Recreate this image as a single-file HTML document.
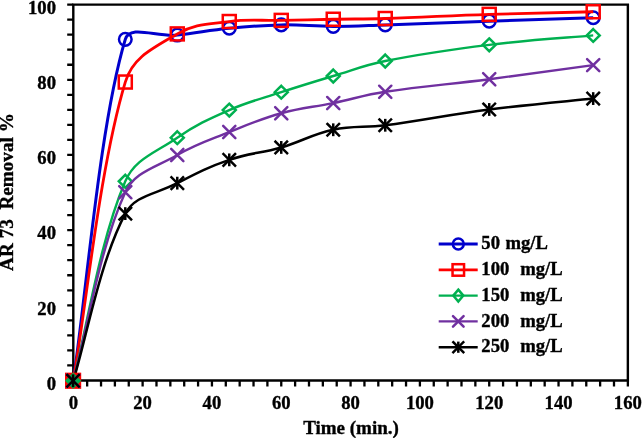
<!DOCTYPE html>
<html><head><meta charset="utf-8"><style>
html,body{margin:0;padding:0;background:#fff;}
svg{display:block;will-change:transform;}
text{font-family:"Liberation Serif",serif;font-weight:bold;fill:#000;stroke:#000;stroke-width:0.35px;}
.tl{font-size:18.67px;}
.at{font-size:19px;}
.yt{font-size:19.2px;}
.lg{font-size:18.67px;word-spacing:0.8px;}
</style></head><body>
<svg width="642" height="438" viewBox="0 0 642 438">
<rect width="642" height="438" fill="#fff"/>
<path d="M67.2,380.50 H73.30 M67.2,365.46 H73.30 M67.2,350.43 H73.30 M67.2,335.39 H73.30 M67.2,320.36 H73.30 M67.2,305.32 H73.30 M67.2,290.28 H73.30 M67.2,275.25 H73.30 M67.2,260.21 H73.30 M67.2,245.18 H73.30 M67.2,230.14 H73.30 M67.2,215.10 H73.30 M67.2,200.07 H73.30 M67.2,185.03 H73.30 M67.2,170.00 H73.30 M67.2,154.96 H73.30 M67.2,139.92 H73.30 M67.2,124.89 H73.30 M67.2,109.85 H73.30 M67.2,94.82 H73.30 M67.2,79.78 H73.30 M67.2,64.74 H73.30 M67.2,49.71 H73.30 M67.2,34.67 H73.30 M67.2,19.64 H73.30 M67.2,4.60 H73.30 M73.30,380.50 V386.6 M87.16,380.50 V386.6 M101.03,380.50 V386.6 M114.89,380.50 V386.6 M128.76,380.50 V386.6 M142.62,380.50 V386.6 M156.48,380.50 V386.6 M170.35,380.50 V386.6 M184.21,380.50 V386.6 M198.08,380.50 V386.6 M211.94,380.50 V386.6 M225.80,380.50 V386.6 M239.67,380.50 V386.6 M253.53,380.50 V386.6 M267.40,380.50 V386.6 M281.26,380.50 V386.6 M295.12,380.50 V386.6 M308.99,380.50 V386.6 M322.85,380.50 V386.6 M336.72,380.50 V386.6 M350.58,380.50 V386.6 M364.44,380.50 V386.6 M378.31,380.50 V386.6 M392.17,380.50 V386.6 M406.04,380.50 V386.6 M419.90,380.50 V386.6 M433.76,380.50 V386.6 M447.63,380.50 V386.6 M461.49,380.50 V386.6 M475.36,380.50 V386.6 M489.22,380.50 V386.6 M503.08,380.50 V386.6 M516.95,380.50 V386.6 M530.81,380.50 V386.6 M544.68,380.50 V386.6 M558.54,380.50 V386.6 M572.40,380.50 V386.6 M586.27,380.50 V386.6 M600.13,380.50 V386.6 M614.00,380.50 V386.6 M627.86,380.50 V386.6" stroke="#000" stroke-width="2.3" fill="none"/>
<path d="M73.30,4.60 H627.86 V380.50 H73.30 Z" stroke="#000" stroke-width="2.4" fill="none"/>
<text x="56" y="389.70" text-anchor="end" class="tl">0</text>
<text x="56" y="314.52" text-anchor="end" class="tl">20</text>
<text x="56" y="239.34" text-anchor="end" class="tl">40</text>
<text x="56" y="164.16" text-anchor="end" class="tl">60</text>
<text x="56" y="88.98" text-anchor="end" class="tl">80</text>
<text x="56" y="13.80" text-anchor="end" class="tl">100</text>
<text x="73.30" y="409.4" text-anchor="middle" class="tl">0</text>
<text x="142.62" y="409.4" text-anchor="middle" class="tl">20</text>
<text x="211.94" y="409.4" text-anchor="middle" class="tl">40</text>
<text x="281.26" y="409.4" text-anchor="middle" class="tl">60</text>
<text x="350.58" y="409.4" text-anchor="middle" class="tl">80</text>
<text x="419.90" y="409.4" text-anchor="middle" class="tl">100</text>
<text x="489.22" y="409.4" text-anchor="middle" class="tl">120</text>
<text x="558.54" y="409.4" text-anchor="middle" class="tl">140</text>
<text x="627.86" y="409.4" text-anchor="middle" class="tl">160</text>
<text x="351.0" y="433.8" text-anchor="middle" class="at">Time (min.)</text>
<text transform="translate(13.3,192.0) rotate(-90)" text-anchor="middle" class="yt">AR 73&#160;&#160;Removal %</text>
<path d="M73.30,380.50 C86.30,295.22 99.30,125.73 125.29,39.37 C129.90,24.06 156.56,37.26 177.28,35.05 C198.18,32.82 208.34,30.32 229.27,28.28 C249.97,26.26 260.39,25.28 281.26,24.90 C302.07,24.52 312.44,26.40 333.25,26.40 C354.06,26.40 364.45,25.60 385.24,24.90 C424.23,23.58 447.62,22.57 489.22,21.14 C530.81,19.71 567.21,18.60 593.20,17.76" stroke="#0000CC" stroke-width="3.0" fill="none"/>
<circle cx="125.29" cy="39.37" r="6.3" fill="none" stroke="#0000CC" stroke-width="2.5"/>
<circle cx="177.28" cy="35.05" r="6.3" fill="none" stroke="#0000CC" stroke-width="2.5"/>
<circle cx="229.27" cy="28.28" r="6.3" fill="none" stroke="#0000CC" stroke-width="2.5"/>
<circle cx="281.26" cy="24.90" r="6.3" fill="none" stroke="#0000CC" stroke-width="2.5"/>
<circle cx="333.25" cy="26.40" r="6.3" fill="none" stroke="#0000CC" stroke-width="2.5"/>
<circle cx="385.24" cy="24.90" r="6.3" fill="none" stroke="#0000CC" stroke-width="2.5"/>
<circle cx="489.22" cy="21.14" r="6.3" fill="none" stroke="#0000CC" stroke-width="2.5"/>
<circle cx="593.20" cy="17.76" r="6.3" fill="none" stroke="#0000CC" stroke-width="2.5"/>
<path d="M73.30,380.50 C86.30,305.88 99.30,168.68 125.29,82.04 C132.54,57.87 151.28,49.05 177.28,33.92 C194.52,23.89 207.77,24.31 229.27,21.52 C249.77,18.85 260.46,20.84 281.26,20.39 C302.06,19.94 312.45,19.64 333.25,19.26 C354.04,18.88 364.46,19.16 385.24,18.51 C424.23,17.29 447.61,15.73 489.22,14.37 C530.80,13.02 567.21,12.40 593.20,11.74" stroke="#FF0000" stroke-width="2.8" fill="none"/>
<rect x="118.79" y="75.54" width="13.0" height="13.0" fill="none" stroke="#FF0000" stroke-width="2.5"/>
<rect x="170.78" y="27.42" width="13.0" height="13.0" fill="none" stroke="#FF0000" stroke-width="2.5"/>
<rect x="222.77" y="15.02" width="13.0" height="13.0" fill="none" stroke="#FF0000" stroke-width="2.5"/>
<rect x="274.76" y="13.89" width="13.0" height="13.0" fill="none" stroke="#FF0000" stroke-width="2.5"/>
<rect x="326.75" y="12.76" width="13.0" height="13.0" fill="none" stroke="#FF0000" stroke-width="2.5"/>
<rect x="378.74" y="12.01" width="13.0" height="13.0" fill="none" stroke="#FF0000" stroke-width="2.5"/>
<rect x="482.72" y="7.87" width="13.0" height="13.0" fill="none" stroke="#FF0000" stroke-width="2.5"/>
<rect x="586.70" y="5.24" width="13.0" height="13.0" fill="none" stroke="#FF0000" stroke-width="2.5"/>
<path d="M73.30,380.50 C86.30,330.69 99.30,241.98 125.29,181.27 C134.83,159.00 154.25,153.45 177.28,137.67 C196.10,124.78 207.25,119.67 229.27,110.04 C249.03,101.40 260.30,99.04 281.26,92.18 C301.89,85.43 312.35,82.29 333.25,76.02 C353.94,69.81 363.70,65.29 385.24,60.99 C424.23,53.19 447.30,49.97 489.22,44.82 C530.56,39.74 567.21,37.77 593.20,35.42" stroke="#00B050" stroke-width="2.4" fill="none"/>
<path d="M125.29,174.87 L131.79,181.27 L125.29,187.67 L118.79,181.27 Z" fill="none" stroke="#00B050" stroke-width="2.5" stroke-linejoin="miter" stroke-miterlimit="10"/>
<path d="M177.28,131.27 L183.78,137.67 L177.28,144.07 L170.78,137.67 Z" fill="none" stroke="#00B050" stroke-width="2.5" stroke-linejoin="miter" stroke-miterlimit="10"/>
<path d="M229.27,103.64 L235.77,110.04 L229.27,116.44 L222.77,110.04 Z" fill="none" stroke="#00B050" stroke-width="2.5" stroke-linejoin="miter" stroke-miterlimit="10"/>
<path d="M281.26,85.78 L287.76,92.18 L281.26,98.58 L274.76,92.18 Z" fill="none" stroke="#00B050" stroke-width="2.5" stroke-linejoin="miter" stroke-miterlimit="10"/>
<path d="M333.25,69.62 L339.75,76.02 L333.25,82.42 L326.75,76.02 Z" fill="none" stroke="#00B050" stroke-width="2.5" stroke-linejoin="miter" stroke-miterlimit="10"/>
<path d="M385.24,54.59 L391.74,60.99 L385.24,67.39 L378.74,60.99 Z" fill="none" stroke="#00B050" stroke-width="2.5" stroke-linejoin="miter" stroke-miterlimit="10"/>
<path d="M489.22,38.42 L495.72,44.82 L489.22,51.22 L482.72,44.82 Z" fill="none" stroke="#00B050" stroke-width="2.5" stroke-linejoin="miter" stroke-miterlimit="10"/>
<path d="M593.20,29.02 L599.70,35.42 L593.20,41.82 L586.70,35.42 Z" fill="none" stroke="#00B050" stroke-width="2.5" stroke-linejoin="miter" stroke-miterlimit="10"/>
<path d="M73.30,380.50 C86.30,333.42 99.30,248.56 125.29,192.17 C134.68,171.80 154.52,168.13 177.28,154.96 C196.38,143.91 208.00,140.57 229.27,132.03 C249.63,123.86 259.62,119.26 281.26,113.24 C301.41,107.63 312.53,107.36 333.25,103.09 C354.12,98.78 364.03,95.05 385.24,91.81 C424.23,85.84 447.69,84.55 489.22,79.22 C530.88,73.87 567.21,68.64 593.20,65.12" stroke="#7030A0" stroke-width="2.4" fill="none"/>
<path d="M119.19,186.07 L131.39,198.27 M131.39,186.07 L119.19,198.27" stroke="#7030A0" stroke-width="2.5" stroke-linecap="round"/>
<path d="M171.18,148.86 L183.38,161.06 M183.38,148.86 L171.18,161.06" stroke="#7030A0" stroke-width="2.5" stroke-linecap="round"/>
<path d="M223.17,125.93 L235.37,138.13 M235.37,125.93 L223.17,138.13" stroke="#7030A0" stroke-width="2.5" stroke-linecap="round"/>
<path d="M275.16,107.14 L287.36,119.34 M287.36,107.14 L275.16,119.34" stroke="#7030A0" stroke-width="2.5" stroke-linecap="round"/>
<path d="M327.15,96.99 L339.35,109.19 M339.35,96.99 L327.15,109.19" stroke="#7030A0" stroke-width="2.5" stroke-linecap="round"/>
<path d="M379.14,85.71 L391.34,97.91 M391.34,85.71 L379.14,97.91" stroke="#7030A0" stroke-width="2.5" stroke-linecap="round"/>
<path d="M483.12,73.12 L495.32,85.32 M495.32,73.12 L483.12,85.32" stroke="#7030A0" stroke-width="2.5" stroke-linecap="round"/>
<path d="M587.10,59.02 L599.30,71.22 M599.30,59.02 L587.10,71.22" stroke="#7030A0" stroke-width="2.5" stroke-linecap="round"/>
<path d="M73.30,380.50 C86.30,338.78 99.30,262.94 125.29,213.60 C134.99,195.20 155.56,194.38 177.28,183.15 C197.23,172.84 207.24,167.41 229.27,159.85 C249.11,153.03 260.90,153.33 281.26,147.44 C302.56,141.28 311.29,134.46 333.25,129.77 C353.39,125.48 364.61,127.95 385.24,125.26 C424.23,120.19 447.39,114.84 489.22,109.48 C530.61,104.16 567.21,101.30 593.20,98.57" stroke="#000000" stroke-width="2.5" fill="none"/>
<path d="M119.49,207.80 L131.09,219.40 M131.09,207.80 L119.49,219.40" stroke="#000000" stroke-width="2.5" stroke-linecap="square"/><path d="M125.29,207.20 L125.29,220.00" stroke="#000000" stroke-width="2.5"/>
<path d="M171.48,177.35 L183.08,188.95 M183.08,177.35 L171.48,188.95" stroke="#000000" stroke-width="2.5" stroke-linecap="square"/><path d="M177.28,176.75 L177.28,189.55" stroke="#000000" stroke-width="2.5"/>
<path d="M223.47,154.05 L235.07,165.65 M235.07,154.05 L223.47,165.65" stroke="#000000" stroke-width="2.5" stroke-linecap="square"/><path d="M229.27,153.45 L229.27,166.25" stroke="#000000" stroke-width="2.5"/>
<path d="M275.46,141.64 L287.06,153.24 M287.06,141.64 L275.46,153.24" stroke="#000000" stroke-width="2.5" stroke-linecap="square"/><path d="M281.26,141.04 L281.26,153.84" stroke="#000000" stroke-width="2.5"/>
<path d="M327.45,123.97 L339.05,135.57 M339.05,123.97 L327.45,135.57" stroke="#000000" stroke-width="2.5" stroke-linecap="square"/><path d="M333.25,123.37 L333.25,136.17" stroke="#000000" stroke-width="2.5"/>
<path d="M379.44,119.46 L391.04,131.06 M391.04,119.46 L379.44,131.06" stroke="#000000" stroke-width="2.5" stroke-linecap="square"/><path d="M385.24,118.86 L385.24,131.66" stroke="#000000" stroke-width="2.5"/>
<path d="M483.42,103.68 L495.02,115.28 M495.02,103.68 L483.42,115.28" stroke="#000000" stroke-width="2.5" stroke-linecap="square"/><path d="M489.22,103.08 L489.22,115.88" stroke="#000000" stroke-width="2.5"/>
<path d="M587.40,92.77 L599.00,104.37 M599.00,92.77 L587.40,104.37" stroke="#000000" stroke-width="2.5" stroke-linecap="square"/><path d="M593.20,92.17 L593.20,104.97" stroke="#000000" stroke-width="2.5"/>
<rect x="65.00" y="372.65" width="16.2" height="16.2" fill="#FF0000"/>
<path d="M73.10,372.55 L81.20,380.75 L73.10,388.95 L65.00,380.75 Z" fill="#00B050"/>
<path d="M67.00,374.65 L79.20,386.85 M79.20,374.65 L67.00,386.85" stroke="#7030A0" stroke-width="2.5" stroke-linecap="round"/>
<path d="M67.30,374.95 L78.90,386.55 M78.90,374.95 L67.30,386.55" stroke="#000000" stroke-width="2.5" stroke-linecap="square"/><path d="M73.10,374.35 L73.10,387.15" stroke="#000000" stroke-width="2.5"/>
<path d="M438.7,244.0 H477.7" stroke="#0000CC" stroke-width="3.0"/>
<circle cx="458.30" cy="244.00" r="5.45" fill="none" stroke="#0000CC" stroke-width="2.5"/>
<text x="481.3" y="249.20" class="lg">50 mg/L</text>
<path d="M438.7,269.95 H477.7" stroke="#FF0000" stroke-width="2.8"/>
<rect x="452.55" y="264.20" width="11.5" height="11.5" fill="none" stroke="#FF0000" stroke-width="2.5"/>
<text x="481.3" y="275.15" class="lg">100&#160;&#160;mg/L</text>
<path d="M438.7,295.6 H477.7" stroke="#00B050" stroke-width="2.4"/>
<path d="M458.30,289.60 L463.30,295.60 L458.30,301.60 L453.30,295.60 Z" fill="none" stroke="#00B050" stroke-width="2.5" stroke-linejoin="miter" stroke-miterlimit="10"/>
<text x="481.3" y="300.80" class="lg">150&#160;&#160;mg/L</text>
<path d="M438.7,321.4 H477.7" stroke="#7030A0" stroke-width="2.4"/>
<path d="M453.00,316.10 L463.60,326.70 M463.60,316.10 L453.00,326.70" stroke="#7030A0" stroke-width="2.5" stroke-linecap="round"/>
<text x="481.3" y="326.60" class="lg">200&#160;&#160;mg/L</text>
<path d="M438.7,347.2 H477.7" stroke="#000000" stroke-width="2.5"/>
<path d="M453.30,342.20 L463.30,352.20 M463.30,342.20 L453.30,352.20" stroke="#000000" stroke-width="2.5" stroke-linecap="square"/><path d="M458.30,341.60 L458.30,352.80" stroke="#000000" stroke-width="2.5"/>
<text x="481.3" y="352.40" class="lg">250&#160;&#160;mg/L</text>
</svg>
</body></html>
